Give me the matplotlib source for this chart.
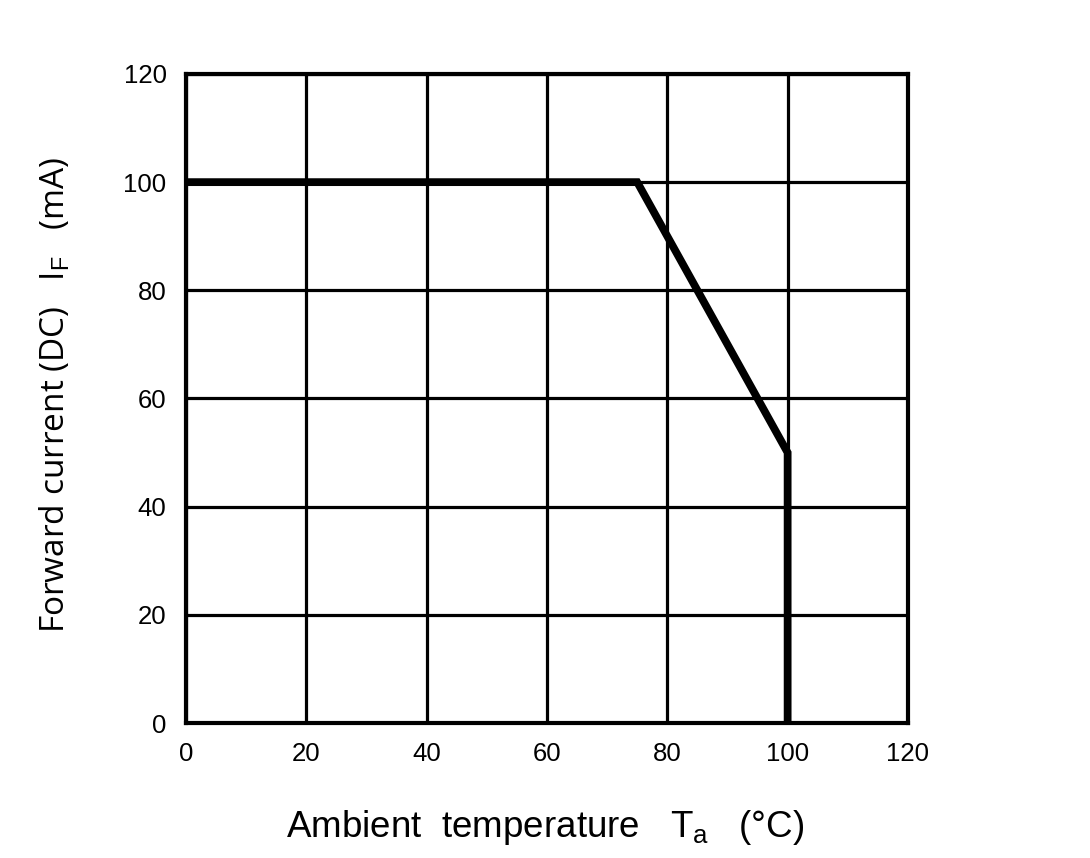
import matplotlib
matplotlib.use("Agg")
import matplotlib.pyplot as plt

temp = [0, 75, 100, 100]
current = [100, 100, 50, 0]
xticks = [0, 20, 40, 60, 80, 100, 120]
yticks = [0, 20, 40, 60, 80, 100, 120]

plt.rcParams['mathtext.fontset'] = 'custom'
plt.rcParams['mathtext.rm'] = 'Liberation Sans'
plt.rcParams['mathtext.it'] = 'Liberation Sans'

fig = plt.figure(figsize=(10.9, 8.58), dpi=100)
ax = fig.add_axes([0.1706, 0.1573, 0.6624, 0.7565])
ax.set_xlim(0, 120)
ax.set_ylim(0, 120)
ax.set_xticks(xticks)
ax.set_yticks(yticks)
ax.set_xticklabels([str(v) for v in xticks], family='Liberation Sans', fontsize=18.5)
ax.set_yticklabels([str(v) for v in yticks], family='Liberation Sans', fontsize=18.5)
ax.tick_params(axis='x', length=0, pad=14)
ax.tick_params(axis='y', length=0, pad=14)
ax.grid(True, color='black', linewidth=2.3)
for s in ax.spines.values():
    s.set_linewidth(3.0)
ax.plot(temp, current, color='black', linewidth=5.6, solid_capstyle='butt',
        solid_joinstyle='miter', zorder=5, clip_on=False)

fig.text(0.5, 0.036, r'Ambient  temperature   T$_{\mathrm{a}}$   (°C)',
         ha='center', va='center', family='Liberation Sans', fontsize=26.5)
fig.text(0.051, 0.54, r'Forward current (DC)   I$_{\mathrm{F}}$   (mA)',
         ha='center', va='center', rotation=90, family='Open Sans', fontsize=24)

fig.savefig('out.png', dpi=100)
